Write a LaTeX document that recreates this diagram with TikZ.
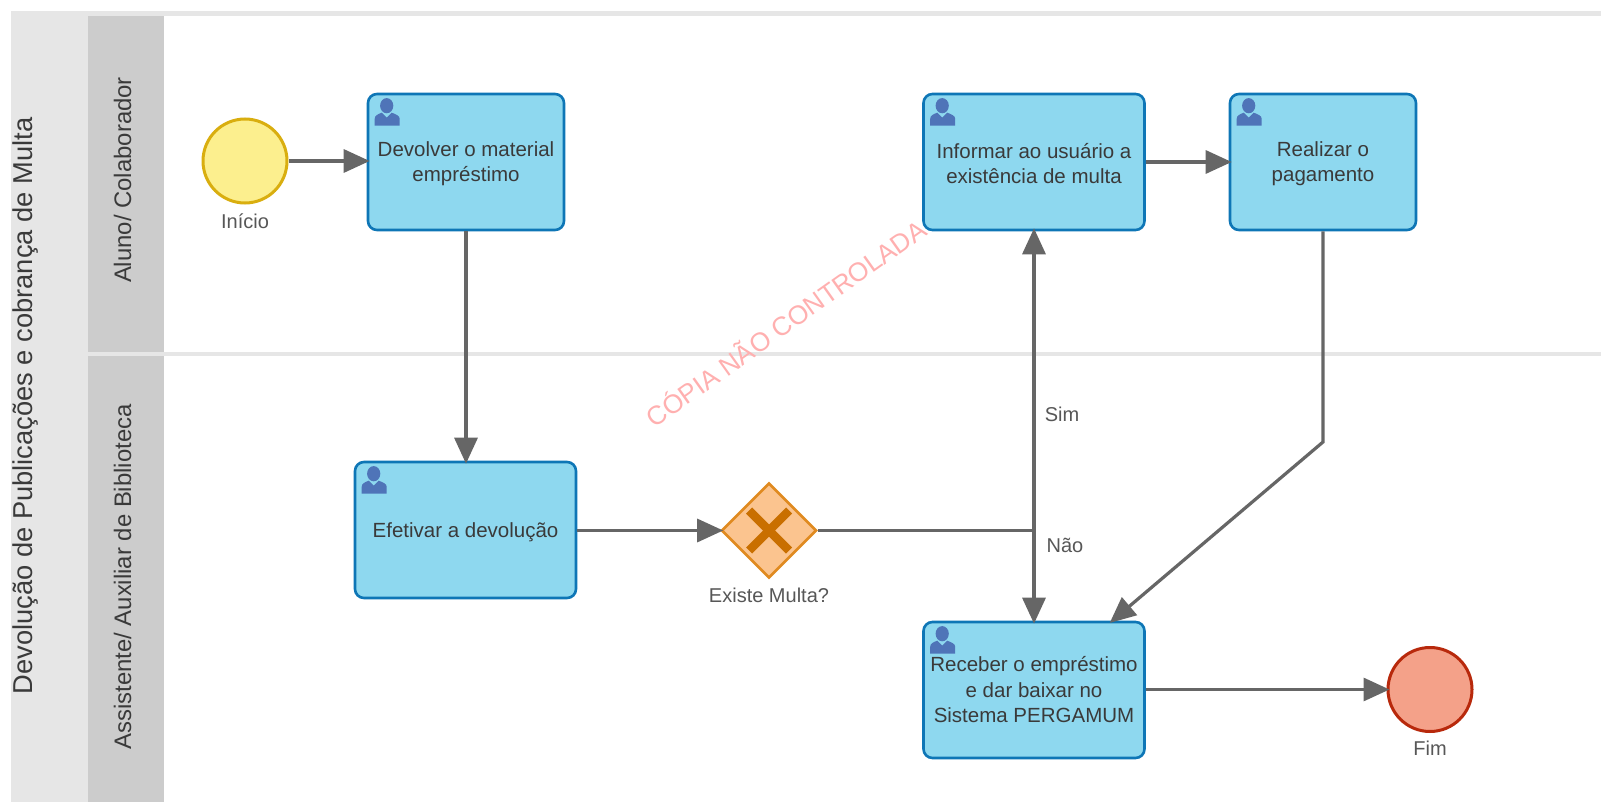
\documentclass[tikz,border=0pt]{standalone}
\usepackage{fontspec}
\setmainfont{Liberation Sans}
\usetikzlibrary{shapes.geometric,arrows.meta}
\definecolor{boxfill}{HTML}{8ED8EF}
\definecolor{boxline}{HTML}{0E76B6}
\definecolor{startfill}{HTML}{FCEF8E}
\definecolor{startline}{HTML}{D9AE0F}
\definecolor{endfill}{HTML}{F4A189}
\definecolor{endline}{HTML}{B8290C}
\definecolor{gatefill}{HTML}{FBC48F}
\definecolor{gateline}{HTML}{E08A20}
\definecolor{gatex}{HTML}{C96F00}
\definecolor{iconblue}{HTML}{4F74B8}
\definecolor{flow}{HTML}{666666}
\definecolor{txt}{HTML}{3A3A3A}
\definecolor{band}{HTML}{E6E6E6}
\definecolor{lanehead}{HTML}{CCCCCC}
\definecolor{mark}{HTML}{FFB0B0}
\tikzset{
  taskbox/.style={draw=boxline,fill=boxfill,line width=2.6pt,rounded corners=9pt,minimum height=136pt,inner sep=0pt,align=center,text=txt,font=\fontsize{20.5}{25.5}\selectfont},
  startev/.style={circle,draw=startline,fill=startfill,line width=3pt,minimum size=84pt,inner sep=0pt},
  endev/.style={circle,draw=endline,fill=endfill,line width=3pt,minimum size=84pt,inner sep=0pt},
  gate/.style={diamond,aspect=1,draw=gateline,fill=gatefill,line width=2.6pt,minimum size=95pt,inner sep=0pt},
  flowline/.style={draw=flow,line width=3.2pt,shorten >=-3pt,-{Triangle[length=26pt,width=23pt]}},
  plainflow/.style={draw=flow,line width=3.2pt},
  small/.style={text=txt!85!white,font=\fontsize{20}{24}\selectfont,inner sep=0pt},
  headtext/.style={text=txt,inner sep=0pt,rotate=90}
}
\newcommand{\lowered}[1]{\raisebox{-1.8pt}[\height][\depth]{#1}}
\newcommand{\usericon}[1]{%
  \begin{scope}[shift={(#1.north west)}]
    \fill[iconblue] (20,13) ellipse (6.6 and 7.6);
    \fill[iconblue] (8,33) -- (8,26) .. controls (8,23) and (11,21.5) .. (15,20) -- (20,25) -- (25,20) .. controls (29,21.5) and (33,23) .. (33,26) -- (33,33) -- cycle;
  \end{scope}}
\begin{document}
\begin{tikzpicture}[x=1pt,y=-1pt]
\useasboundingbox (0,0) rectangle (1601,802);
\fill[white] (0,0) rectangle (1601,802);
% pool and lanes
\fill[band] (11,11) rectangle (1601,16);
\fill[band] (11,11) rectangle (88,802);
\fill[band] (88,352) rectangle (1601,356);
\fill[lanehead] (88,16) rectangle (164,352);
\fill[lanehead] (88,356) rectangle (164,802);
\node[headtext,font=\fontsize{27.3}{30}\selectfont] (pool) at (26,406) {Devolução de Publicações e cobrança de Multa};
\node[headtext,font=\fontsize{23.9}{27}\selectfont] (lane1) at (122.5,180) {Aluno/ Colaborador};
\node[headtext,font=\fontsize{23.9}{27}\selectfont] (lane2) at (122.5,577) {Assistente/ Auxiliar de Biblioteca};
% watermark
\node[text=mark,rotate=35.4,font=\fontsize{26.3}{30}\selectfont,inner sep=0pt] (wm) at (785,322) {CÓPIA NÃO CONTROLADA};
% events and tasks
\node[startev] (start) at (245,161) {};
\node[taskbox,minimum width=196pt] (devolver) at (466,162) {\lowered{Devolver o material}\\\lowered{empréstimo}};
\node[taskbox,minimum width=221pt] (efetivar) at (465.5,530) {\lowered{Efetivar a devolução}};
\node[taskbox,minimum width=221pt] (informar) at (1034,162) {\lowered{Informar ao usuário a}\\\lowered{existência de multa}};
\node[taskbox,minimum width=186pt] (realizar) at (1323,162) {\lowered{Realizar o}\\\lowered{pagamento}};
\node[taskbox,minimum width=221pt] (receber) at (1034,690) {Receber o empréstimo\\e dar baixar no\\Sistema PERGAMUM};
\node[gate] (gw) at (769,530.5) {};
\node[endev] (fim) at (1430,689.5) {};
\draw[gatex,line width=8.5pt] ([shift={(-20,-20)}]gw.center) -- ([shift={(20,20)}]gw.center);
\draw[gatex,line width=8.5pt] ([shift={(-20,20)}]gw.center) -- ([shift={(20,-20)}]gw.center);
\usericon{devolver}
\usericon{efetivar}
\usericon{informar}
\usericon{realizar}
\usericon{receber}
% labels
\node[small] (linicio) at (245,221) {Início};
\node[small] (lfim) at (1430,748) {Fim};
\node[small] (lgw) at (769,595) {Existe Multa?};
\node[small] (lsim) at (1062,414) {Sim};
\node[small] (lnao) at (1065,545) {Não};
% connectors
\coordinate (junc) at (informar.south |- gw.east);
\coordinate (bendr) at (1323,442);
\coordinate (diagend) at (1112,621);
\draw[flowline] (start.east) -- (devolver.west |- start.east);
\draw[flowline] (devolver.south) -- (devolver.south |- efetivar.north);
\draw[flowline] (efetivar.east |- gw.west) -- (gw.west);
\draw[plainflow] (gw.east) -- (junc);
\draw[flowline] (junc) -- (informar.south);
\draw[flowline] (junc) -- (receber.north);
\draw[flowline] (informar.east) -- (realizar.west);
\draw[flowline] (realizar.south) -- (bendr) -- (diagend);
\draw[flowline] (receber.east |- fim.west) -- (fim.west);
\end{tikzpicture}
\end{document}
